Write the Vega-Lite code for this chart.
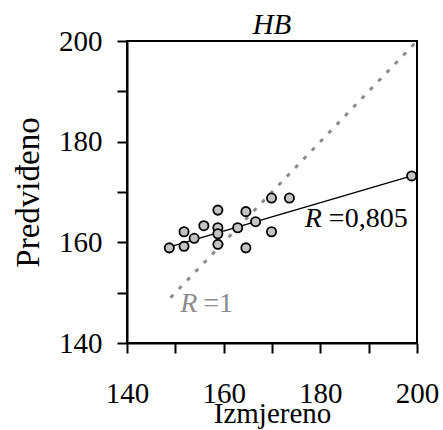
{
  "$schema": "https://vega.github.io/schema/vega-lite/v6.json",
  "width": 290,
  "height": 302,
  "autosize": {"type": "none"},
  "padding": {"left": 127, "top": 41, "right": 26, "bottom": 87},
  "background": "white",
  "config": {
    "view": {"stroke": "black", "strokeWidth": 2},
    "font": "'Liberation Serif', serif",
    "axis": {
      "labelFont": "'Liberation Serif', serif",
      "titleFont": "'Liberation Serif', serif",
      "labelFontSize": 29,
      "titleFontSize": 29,
      "labelColor": "black",
      "titleColor": "black",
      "titleFontWeight": "normal",
      "domainColor": "black",
      "domainWidth": 2,
      "tickColor": "black",
      "tickWidth": 2,
      "tickSize": 10,
      "grid": false
    }
  },
  "title": {
    "text": "HB",
    "font": "'Liberation Serif', serif",
    "fontSize": 29,
    "fontStyle": "italic",
    "fontWeight": "normal",
    "color": "black",
    "offset": 0,
    "dy": 13
  },
  "datasets": {
    "points": [
      {"x": 148.75, "y": 158.9},
      {"x": 151.8, "y": 159.2},
      {"x": 151.8, "y": 162.1},
      {"x": 153.9, "y": 160.8},
      {"x": 155.9, "y": 163.3},
      {"x": 158.8, "y": 166.4},
      {"x": 158.8, "y": 162.9},
      {"x": 158.8, "y": 161.7},
      {"x": 158.8, "y": 159.6},
      {"x": 162.9, "y": 162.9},
      {"x": 164.6, "y": 166.1},
      {"x": 164.6, "y": 158.9},
      {"x": 166.6, "y": 164.1},
      {"x": 169.9, "y": 168.8},
      {"x": 169.9, "y": 162.1},
      {"x": 173.6, "y": 168.8},
      {"x": 198.9, "y": 173.2}
    ],
    "fit": [
      {"x": 149.2, "y": 159.2},
      {"x": 198.9, "y": 173.2}
    ],
    "identity": [
      {"x": 149, "y": 149},
      {"x": 199.5, "y": 199.5}
    ],
    "labelsBlack": [
      {"x": 176.8, "y": 163.0, "r": "R", "rest": "=0,805"}
    ],
    "labelsGray": [
      {"x": 151.0, "y": 146.1, "r": "R", "rest": "=1"}
    ]
  },
  "encoding": {
    "x": {
      "field": "x",
      "type": "quantitative",
      "scale": {"domain": [140, 200], "nice": false, "zero": false},
      "axis": {
        "title": "Izmjereno",
        "values": [140, 150, 160, 170, 180, 190, 200],
        "labelExpr": "datum.value % 20 == 0 ? datum.label : ''",
        "labelPadding": 26,
        "labelFlush": false,
        "titleY": 79,
        "titleBaseline": "alphabetic"
      }
    },
    "y": {
      "field": "y",
      "type": "quantitative",
      "scale": {"domain": [140, 200], "nice": false, "zero": false},
      "axis": {
        "title": "Predviđeno",
        "titleFontSize": 33,
        "values": [140, 150, 160, 170, 180, 190, 200],
        "labelExpr": "datum.value % 20 == 0 ? datum.label : ''",
        "labelPadding": 15,
        "labelFlush": false,
        "titleX": -89,
        "titleY": 151,
        "titleBaseline": "alphabetic"
      }
    }
  },
  "layer": [
    {
      "data": {"name": "identity"},
      "mark": {"type": "line", "color": "#8c8c8c", "strokeWidth": 3, "strokeDash": [4, 8]}
    },
    {
      "data": {"name": "fit"},
      "mark": {"type": "line", "color": "black", "strokeWidth": 1.5}
    },
    {
      "data": {"name": "points"},
      "mark": {"type": "point", "shape": "circle", "filled": true, "fill": "#c4c4c4", "stroke": "black", "strokeWidth": 1.8, "size": 85, "opacity": 1}
    },
    {
      "data": {"name": "labelsBlack"},
      "mark": {"type": "text", "align": "left", "baseline": "alphabetic", "font": "'Liberation Serif', serif", "fontSize": 28, "fontStyle": "italic", "color": "black"},
      "encoding": {"text": {"field": "r"}}
    },
    {
      "data": {"name": "labelsBlack"},
      "mark": {"type": "text", "align": "left", "baseline": "alphabetic", "font": "'Liberation Serif', serif", "fontSize": 28, "color": "black", "dx": 24},
      "encoding": {"text": {"field": "rest"}}
    },
    {
      "data": {"name": "labelsGray"},
      "mark": {"type": "text", "align": "left", "baseline": "alphabetic", "font": "'Liberation Serif', serif", "fontSize": 28, "fontStyle": "italic", "color": "#8c8c8c"},
      "encoding": {"text": {"field": "r"}}
    },
    {
      "data": {"name": "labelsGray"},
      "mark": {"type": "text", "align": "left", "baseline": "alphabetic", "font": "'Liberation Serif', serif", "fontSize": 28, "color": "#8c8c8c", "dx": 23},
      "encoding": {"text": {"field": "rest"}}
    }
  ]
}
